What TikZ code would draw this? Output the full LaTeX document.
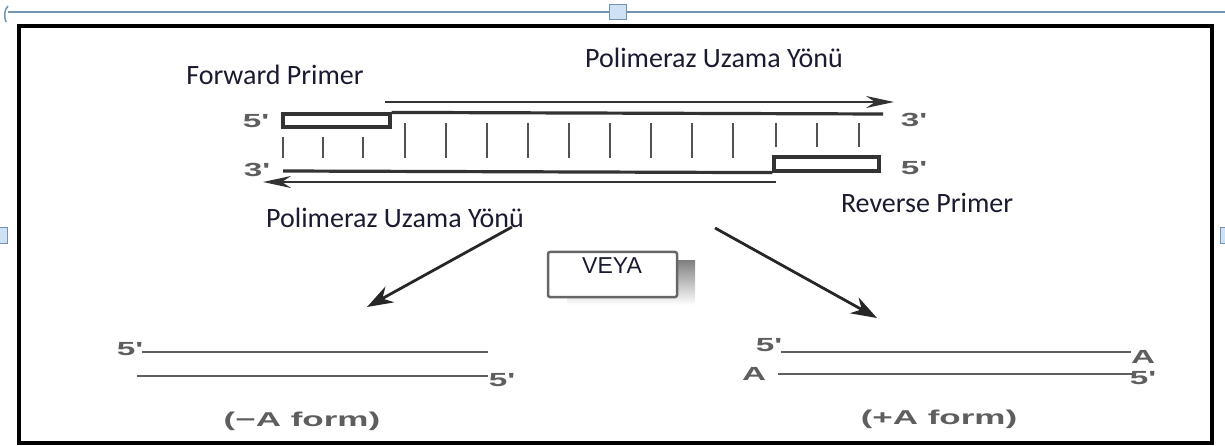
\documentclass[tikz,border=0pt]{standalone}
\usepackage{fontspec}
\setmainfont{Carlito}
\newfontfamily\arialf{Liberation Sans}
\usetikzlibrary{arrows.meta}
\definecolor{ink}{HTML}{1A1A30}
\definecolor{dna}{HTML}{333333}
\definecolor{lab}{HTML}{5E5E5E}
\definecolor{selblue}{HTML}{7393B5}
\definecolor{handle}{HTML}{CFE2F5}
\definecolor{shade}{HTML}{BDBDBD}
\tikzset{
  lbl/.style={font=\fontsize{28}{30}\selectfont, text=ink, inner sep=0pt},
  endlab/.style={font=\arialf\bfseries\fontsize{19}{22}\selectfont, text=lab, inner sep=0pt},
  formlab/.style={font=\arialf\bfseries\fontsize{20}{24}\selectfont, text=lab, inner sep=0pt},
  strand/.style={draw=dna, line width=3.2pt},
  thinstrand/.style={draw=lab, line width=2.6pt},
  tickline/.style={draw=dna!85, line width=2.8pt},
  primerbox/.style={draw=dna, line width=3.2pt, fill=white, inner sep=0pt},
  dirarrow/.style={draw=dna, line width=2.4pt, -{Stealth[length=28pt,width=12pt]}},
  diagarrow/.style={draw=black!85, line width=2.8pt, -{Stealth[length=26pt,width=18pt]}},
  selhandle/.style={draw=selblue, fill=handle, line width=1pt, inner sep=0pt}
}
\newcommand{\wide}[1]{\scalebox{1.75}[1]{#1}}
\begin{document}
\begin{tikzpicture}[x=1pt,y=-1pt]
\useasboundingbox (0,0) rectangle (1225,446);
% selection frame of the picture
\draw[selblue, line width=1.5pt] (8,12) -- (1225,12);
\draw[selblue, line width=1.5pt] (8,6) .. controls (4,10) and (4,16) .. (6,22);
\node[selhandle, minimum width=17pt, minimum height=15pt] (htop) at (618,12) {};
\node[selhandle, minimum width=8pt, minimum height=16pt] (hleft) at (3,236) {};
\node[selhandle, minimum width=6pt, minimum height=16pt] (hright) at (1223,236) {};
% black frame
\draw[black, line width=4pt] (19,26) rectangle (1212,443);

% labels
\node[lbl] (pol1) at (714,58) {Polimeraz Uzama Yönü};
\node[lbl] (fwd) at (275,75) {Forward Primer};
\node[lbl] (rev) at (927,203) {Reverse Primer};
\node[lbl] (pol2) at (395,218) {Polimeraz Uzama Yönü};

% primers
\node[primerbox, minimum width=107pt, minimum height=13pt] (fp) at (336.5,120.5) {};
\node[primerbox, minimum width=105pt, minimum height=14pt] (rp) at (826.5,164) {};
\coordinate (topend) at (883,114);
\coordinate (botstart) at (283,171);
\draw[strand] (fp.north east) -- (topend);
\draw[strand] (botstart) -- (rp.south west);

% base pair ticks
\foreach \x in {283,323,363} \draw[tickline] (\x,137) -- (\x,158);
\foreach \x in {405,446,487,528,569,610,651,692,733} \draw[tickline] (\x,123) -- (\x,158);
\foreach \x in {776,817,859} \draw[tickline] (\x,123) -- (\x,147);

% direction arrows
\coordinate (ta1) at (385,102);
\coordinate (ta2) at (894,102);
\coordinate (ba1) at (776,182);
\coordinate (ba2) at (263,182);
\draw[dirarrow] (ta1) -- (ta2);
\draw[dirarrow] (ba1) -- (ba2);

% end labels top
\node[endlab] (t5) at (256,121) {\wide{5\textquotesingle}};
\node[endlab] (t3) at (914,120) {\wide{3\textquotesingle}};
\node[endlab] (b3) at (257,170) {\wide{3\textquotesingle}};
\node[endlab] (b5) at (914,168) {\wide{5\textquotesingle}};

% diagonal arrows
\coordinate (la1) at (512,227);
\coordinate (la2) at (367,307);
\coordinate (ra1) at (715,228);
\coordinate (ra2) at (877,318);
\draw[diagarrow] (la1) -- (la2);
\draw[diagarrow] (ra1) -- (ra2);

% VEYA box
\fill[shade] (567,260) rectangle (695,305);
\node[draw=black!60, line width=2.5pt, rounded corners=2pt, fill=white, minimum width=129pt, minimum height=45pt, inner sep=0pt] (veyabox) at (612.5,274.5) {};
\node[font=\arialf\fontsize{23}{25}\selectfont, text=ink, inner sep=0pt] (veya) at (612,266) {VEYA};

% -A form
\node[endlab] (l5a) at (130,349) {\wide{5\textquotesingle}};
\coordinate (l1a) at (142,352);
\coordinate (l1b) at (488,352);
\coordinate (l2a) at (137,376);
\coordinate (l2b) at (488,376);
\draw[thinstrand] (l1a) -- (l1b);
\draw[thinstrand] (l2a) -- (l2b);
\node[endlab] (l5b) at (502,380) {\wide{5\textquotesingle}};
\node[formlab] (minusA) at (302,421) {\wide{(−A form)}};

% +A form
\node[endlab] (r5a) at (769,345) {\wide{5\textquotesingle}};
\node[endlab] (rAa) at (1143,357) {\wide{A}};
\node[endlab] (rAb) at (754,374) {\wide{A}};
\node[endlab] (r5b) at (1143,378) {\wide{5\textquotesingle}};
\coordinate (rl1a) at (781,352);
\coordinate (rl1b) at (1131,352);
\coordinate (rl2a) at (778,374);
\coordinate (rl2b) at (1132,374);
\draw[thinstrand] (rl1a) -- (rl1b);
\draw[thinstrand] (rl2a) -- (rl2b);
\node[formlab] (plusA) at (939,419) {\wide{(+A form)}};
\end{tikzpicture}
\end{document}
